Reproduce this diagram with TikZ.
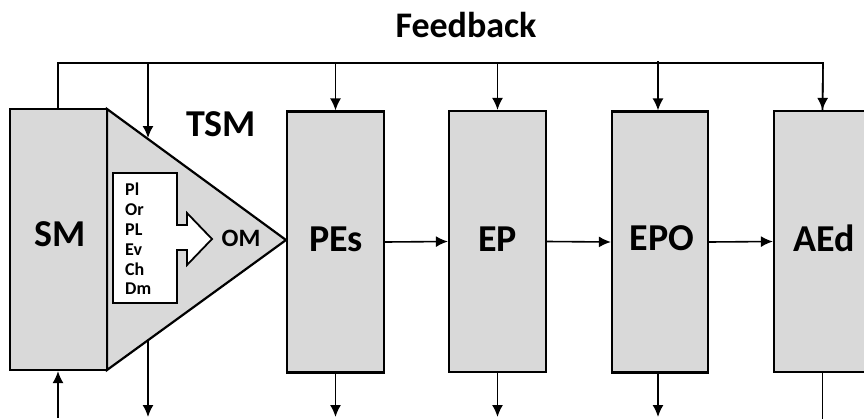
\documentclass[tikz,border=0pt]{standalone}
\usepackage{fontspec}
\setmainfont{Carlito}
\usetikzlibrary{arrows.meta}
\definecolor{boxgrey}{HTML}{D9D9D9}
\tikzset{
  blk/.style={draw=black, line width=2.2pt, fill=boxgrey, minimum width=97pt, minimum height=261pt, inner sep=0pt},
  conn/.style={line width=1.6pt, -{Latex[length=12pt,width=11pt]}},
  plain/.style={line width=1.6pt},
  lbl/.style={inner sep=0pt, anchor=base, font=\fontsize{38}{44}\selectfont\bfseries}
}
\begin{document}
\begin{tikzpicture}[x=1pt,y=-1pt]
\useasboundingbox (0,0) rectangle (864,418);
\clip (0,0) rectangle (864,418);
% title
\node[lbl, font=\fontsize{36}{42}\selectfont\bfseries] (fbt) at (466,37) {Feedback};
% triangle (TSM)
\coordinate (tA) at (107,109);
\coordinate (tB) at (286,240);
\coordinate (tC) at (107,370);
\draw[line width=2.2pt, fill=boxgrey, line join=miter] (tA) -- (tB) -- (tC) -- cycle;
% boxes
\node[blk] (SM) at (58.5,239.5) {};
\node[blk] (PEs) at (335.5,242) {};
\node[blk] (EP) at (497.5,241.5) {};
\node[blk, minimum width=96pt] (EPO) at (660,242) {};
\node[blk] (AEd) at (822.5,241.5) {};
\node[lbl] (SMl) at (60,246) {SM};
\node[lbl] (PEsl) at (336,251) {PEs};
\node[lbl] (EPl) at (497.5,251) {EP};
\node[lbl] (EPOl) at (662,250) {EPO};
\node[lbl] (AEdl) at (824,251) {AEd};
% inner white box with arrow
\draw[line width=1.8pt, fill=white, line join=miter]
  (113,173) -- (177,173) -- (177,225) -- (187,225) -- (187,213) -- (212,239)
  -- (187,265) -- (187,250) -- (177,250) -- (177,303) -- (113,303) -- cycle;
\node[inner sep=0pt, anchor=west, align=left, font=\fontsize{18}{19.8}\selectfont\bfseries] (lst) at (125,239) {Pl\\Or\\PL\\Ev\\Ch\\Dm};
\node[lbl, font=\fontsize{25}{30}\selectfont\bfseries] (OM) at (241,246) {OM};
\node[lbl] (TSM) at (221,136) {TSM};
% feedback loop
\coordinate (fbL) at (58,63);
\coordinate (fbR) at (823,63);
\coordinate (f1) at (148,63);
\coordinate (t1) at (148,138);
\coordinate (t2) at (148,340);
\draw[plain] (SM.north -| fbL) -- (fbL) -- (fbR) -- (AEd.north);
\draw[conn] (fbR) -- (AEd.north);
\draw[conn] (f1) -- (t1);
\draw[conn] (PEs.north |- fbL) -- (PEs.north);
\draw[conn] (EP.north |- fbL) -- (EP.north);
\draw[conn] (EPO.north -| 658,0) ++(0,-49) -- ++(0,49);
% horizontal flow
\draw[conn] (PEs.east) -- (EP.west);
\draw[conn] (EP.east) -- (EPO.west);
\draw[conn] (EPO.east) -- (AEd.west);
% bottom connectors
\coordinate (bSM) at (58,418);
\coordinate (b1) at (148,417);
\draw[conn] (bSM) -- (bSM |- SM.south);
\draw[conn] (t2) -- (b1);
\draw[conn] (PEs.south) -- (PEs.south |- b1);
\draw[conn] (EP.south) -- (EP.south |- b1);
\draw[conn] (EPO.south -| 658,0) -- (658,417);
\draw[plain] (AEd.south) -- (AEd.south |- 0,420);
\end{tikzpicture}
\end{document}
